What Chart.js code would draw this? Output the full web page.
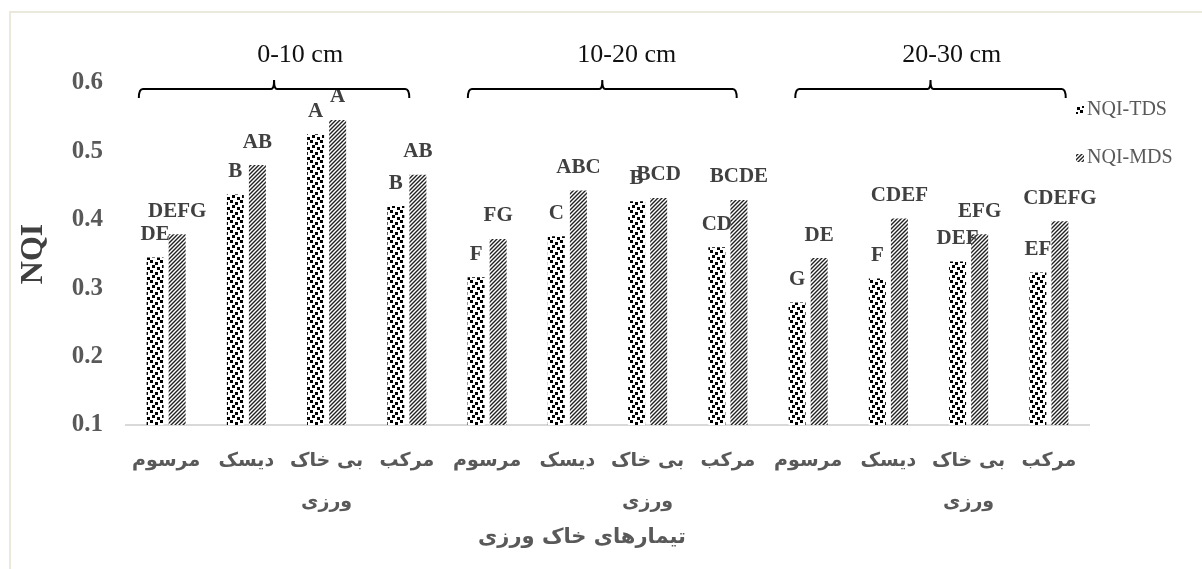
<!DOCTYPE html>
<html>
<head>
<meta charset="utf-8">
<script src="https://cdn.jsdelivr.net/npm/chart.js@4.4.1/dist/chart.umd.min.js"></script>
<style>
  html, body { margin: 0; padding: 0; background: #fff; overflow: hidden; }
  #wrap { position: relative; width: 1202px; height: 569px; }
  #frame { position: absolute; left: 9px; top: 11px; width: 1300px; height: 700px;
           border: 2px solid #ebe8dc; pointer-events: none; }
</style>
</head>
<body>
<div id="wrap">
  <canvas id="chart" width="1202" height="569"></canvas>
  <div id="frame"></div>
</div>
<script>
// tillage treatments, repeated for each soil depth
const treatments = ['مرسوم', 'دیسک', ['بی خاک', 'ورزی'], 'مرکب'];
const depths = ['0-10 cm', '10-20 cm', '20-30 cm'];
const categories = [...treatments, ...treatments, ...treatments];

const nqiTDS = [0.345, 0.437, 0.525, 0.420, 0.316, 0.376, 0.427, 0.360, 0.279, 0.314, 0.339, 0.323];
const nqiMDS = [0.379, 0.480, 0.546, 0.466, 0.372, 0.443, 0.432, 0.429, 0.344, 0.402, 0.379, 0.398];

const lettersTDS = ['DE', 'B', 'A', 'B', 'F', 'C', 'B', 'CD', 'G', 'F', 'DEF', 'EF'];
const lettersMDS = ['DEFG', 'AB', 'A', 'AB', 'FG', 'ABC', 'BCD', 'BCDE', 'DE', 'CDEF', 'EFG', 'CDEFG'];

const yTicks = [0.1, 0.2, 0.3, 0.4, 0.5, 0.6];
const xTitle = 'تیمارهای خاک ورزی';
const yTitle = 'NQI';

// brace ends and depth label positions, in category index units
const braceFrom = [-0.34, 3.76, 7.84];
const braceTo = [3.03, 7.11, 11.21];
const depthLabelAt = [1.67, 5.74, 9.79];

const SERIF = '"Liberation Serif", "Times New Roman", serif';
const SANS = '"DejaVu Sans", sans-serif';

function dotPattern() {
  const c = document.createElement('canvas');
  c.width = 10; c.height = 10;
  const g = c.getContext('2d');
  g.fillStyle = '#fff';
  g.fillRect(0, 0, 10, 10);
  g.fillStyle = '#000';
  g.fillRect(0, 0, 3, 3);
  g.fillRect(5, 2, 3, 3);
  g.fillRect(2, 5, 3, 3);
  g.fillRect(7, 7, 3, 3);
  return g.createPattern(c, 'repeat');
}

function stripePattern() {
  const s = 4;
  const c = document.createElement('canvas');
  c.width = s; c.height = s;
  const g = c.getContext('2d');
  g.fillStyle = '#fff';
  g.fillRect(0, 0, s, s);
  g.strokeStyle = '#222';
  g.lineWidth = 1.4;
  g.beginPath();
  g.moveTo(0, s); g.lineTo(s, 0);
  g.moveTo(-1, 1); g.lineTo(1, -1);
  g.moveTo(s - 1, s + 1); g.lineTo(s + 1, s - 1);
  g.stroke();
  return g.createPattern(c, 'repeat');
}

const tdsFill = dotPattern();
const mdsFill = stripePattern();

const annotations = {
  id: 'annotations',
  afterDatasetsDraw(chart) {
    const ctx = chart.ctx;
    const x = chart.scales.x;
    ctx.save();

    // significance letters above each bar
    ctx.font = 'bold 21px ' + SERIF;
    ctx.fillStyle = '#404040';
    ctx.textAlign = 'center';
    ctx.textBaseline = 'middle';
    [lettersTDS, lettersMDS].forEach((letters, di) => {
      chart.getDatasetMeta(di).data.forEach((bar, i) => {
        ctx.fillText(letters[i], bar.x, bar.y - 23);
      });
    });

    // depth braces
    ctx.strokeStyle = '#000';
    ctx.lineWidth = 2;
    const yl = 89;
    depths.forEach((d, i) => {
      const x1 = x.getPixelForValue(braceFrom[i]);
      const x2 = x.getPixelForValue(braceTo[i]);
      const xm = (x1 + x2) / 2;
      ctx.beginPath();
      ctx.moveTo(x1, yl + 9);
      ctx.quadraticCurveTo(x1, yl, x1 + 4, yl);
      ctx.lineTo(xm - 3, yl);
      ctx.quadraticCurveTo(xm, yl, xm, yl - 9);
      ctx.quadraticCurveTo(xm, yl, xm + 3, yl);
      ctx.lineTo(x2 - 4, yl);
      ctx.quadraticCurveTo(x2, yl, x2, yl + 9);
      ctx.stroke();

      ctx.font = '26px ' + SERIF;
      ctx.fillStyle = '#111';
      ctx.fillText(d, x.getPixelForValue(depthLabelAt[i]), 55);
    });

    // legend
    ctx.font = '20px ' + SERIF;
    ctx.textAlign = 'left';
    chart.data.datasets.forEach((ds, i) => {
      const ly = 110 + i * 48;
      ctx.fillStyle = ds.backgroundColor;
      ctx.fillRect(1076, ly - 4, 8, 8);
      ctx.fillStyle = '#595959';
      ctx.fillText(ds.label, 1087, ly);
    });

    // x axis title
    ctx.font = 'bold 21px ' + SANS;
    ctx.fillStyle = '#595959';
    ctx.textAlign = 'center';
    ctx.fillText(xTitle, 582, 538);

    ctx.restore();
  },
};

new Chart(document.getElementById('chart'), {
  type: 'bar',
  data: {
    labels: categories,
    datasets: [
      { label: 'NQI-TDS', data: nqiTDS, backgroundColor: tdsFill, borderWidth: 0 },
      { label: 'NQI-MDS', data: nqiMDS, backgroundColor: mdsFill, borderWidth: 0 },
    ],
  },
  options: {
    responsive: false,
    animation: false,
    devicePixelRatio: 1,
    categoryPercentage: 0.55,
    barPercentage: 0.77,
    layout: { padding: { top: 83, right: 113, left: 0, bottom: 0 } },
    plugins: {
      legend: { display: false },
      tooltip: { enabled: false },
    },
    scales: {
      x: {
        grid: { display: false, drawTicks: false },
        border: { display: true, color: '#d9d9d9', width: 2 },
        ticks: {
          padding: 16,
          color: '#595959',
          font: { family: SANS, size: 19, weight: 'bold', lineHeight: '41px' },
          maxRotation: 0,
          autoSkip: false,
        },
        afterFit(scale) { scale.height = 144; },
      },
      y: {
        min: 0.1,
        max: 0.6,
        afterBuildTicks(scale) { scale.ticks = yTicks.map((v) => ({ value: v })); },
        grid: { display: false, drawTicks: false },
        border: { display: false },
        ticks: {
          padding: 23,
          color: '#595959',
          font: { family: SERIF, size: 25, weight: 'bold' },
          callback: (v) => v.toFixed(1),
        },
        title: {
          display: true,
          text: yTitle,
          color: '#404040',
          font: { family: SERIF, size: 32, weight: 'bold' },
          padding: { top: 15, bottom: 0 },
        },
        afterFit(scale) { scale.width = 126; },
      },
    },
  },
  plugins: [annotations],
});
</script>
</body>
</html>
